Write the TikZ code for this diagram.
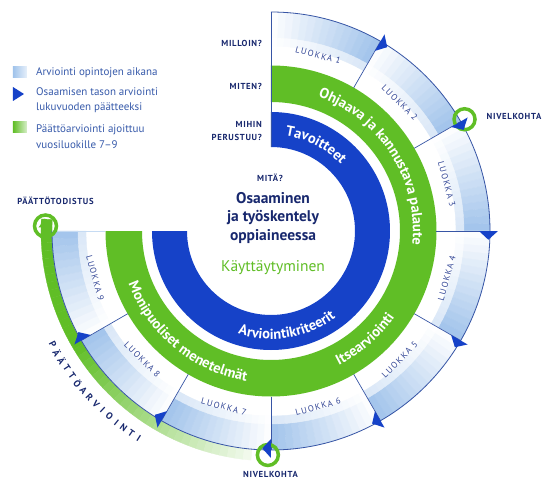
\documentclass[tikz,border=0pt]{standalone}
\usepackage{fontspec}
\setmainfont{PT Sans}
\newfontfamily\capsfont[LetterSpace=8]{PT Sans}
\newfontfamily\luofont[LetterSpace=15]{PT Sans}
\usetikzlibrary{decorations.text}
\definecolor{navy}{RGB}{24,40,110}
\definecolor{ringblue}{RGB}{22,66,200}
\definecolor{grn}{RGB}{96,190,38}
\definecolor{lb}{RGB}{160,195,235}
\definecolor{lineblue}{RGB}{55,85,165}
\definecolor{legblue}{RGB}{55,90,170}
\definecolor{luoblue}{RGB}{50,70,150}
\newcommand\annsec[5]{\path[#1] (#2:#4) arc[start angle=#2,end angle=#3,radius=#4] -- (#3:#5) arc[start angle=#3,end angle=#2,radius=#5] -- cycle;}
\newcommand\ringfont{\fontsize{14.5}{14.5}\selectfont\bfseries\color{white}}
\begin{document}
\begin{tikzpicture}[x=1pt,y=1pt,
  capsl/.style={font=\capsfont\fontsize{8.7}{10}\selectfont\bfseries, text=navy, inner sep=0pt},
  luo/.style={font=\luofont\fontsize{8.7}{10}\selectfont, text=luoblue, inner sep=0pt},
  leg/.style={font=\fontsize{11}{15.5}\selectfont, text=legblue, align=left, anchor=west, inner sep=0pt},
  pa/.style={font=\fontsize{9.5}{10}\selectfont\bfseries, text=navy, inner sep=0pt},
  divider/.style={lineblue, line width=0.7pt},
  nivel/.style={grn, line width=3.5pt},
  marker/.style={fill=ringblue}]
\useasboundingbox (-271,-270) rectangle (279,231);
\fill[white] (-271,-270) rectangle (279,231);

% green final-assessment band
\foreach \j in {0,...,43} {
  \pgfmathsetmacro\a{-183+2*\j}
  \pgfmathsetmacro\b{\a+2}
  \pgfmathtruncatemacro\p{\a<-150 ? 100 : max(0,100-(\a+150)*1.7)}
  \annsec{fill=grn!\p!white, draw=grn!\p!white, line width=0.3pt}{\a}{\b}{219pt}{230pt}
}

% grade segments shading
\foreach \k in {1,...,9} {
  \foreach \j in {0,...,14} {
    \pgfmathsetmacro\a{90-30*(\k-1)-2*\j}
    \pgfmathsetmacro\b{\a-2}
    \pgfmathtruncatemacro\p{(\j+0.5)*100/15}
    \pgfmathtruncatemacro\q{(\j+0.5)*40/15}
    \annsec{fill=lb!\p!white, draw=lb!\p!white, line width=0.3pt}{\a}{\b}{193pt}{219pt}
    \annsec{fill=lb!\q!white, draw=lb!\q!white, line width=0.3pt}{\a}{\b}{185pt}{193pt}
  }
}

% rings
\annsec{fill=grn}{90}{-180}{129pt}{165.5pt}
\annsec{fill=ringblue}{90}{-180}{84pt}{119pt}

% lines
\draw[lineblue, line width=0.8pt] (90:219pt) arc[start angle=90,end angle=-180,radius=219pt];
\foreach \t in {60,30,...,-150} \draw[divider] (\t:165.5pt) -- (\t:219pt);
\draw[divider] (90:84pt) -- (90:219pt);
\draw[lb!60!white, line width=0.7pt] (180:165.5pt) -- (180:219pt);

% nivelkohta circles
\draw[nivel] (30:223.5pt) circle[radius=10.5pt];
\draw[nivel] (-90.8:224pt) circle[radius=10.5pt];
\draw[nivel] (-225.5,5) circle[radius=11pt];
\fill[grn] (-226,12.5) -- (-232.5,3.5) -- (-219.5,3.5) -- cycle;

% markers
\foreach \t in {60,30,...,-150} {
  \pgfmathsetmacro\ap{\t-2.3}
  \fill[marker] (\t:208pt) -- (\t:227pt) -- (\ap:217.5pt) -- cycle;
}

% ring texts
\path[decorate, decoration={text along path, text align=center,
  text={|\ringfont|Ohjaava ja kannustava palaute}}]
  (90:142pt) arc[start angle=90,end angle=-25,radius=142pt];
\path[decorate, decoration={text along path, text align=center,
  text={|\ringfont|Itsearviointi}}]
  (-80:150.5pt) arc[start angle=-80,end angle=-18,radius=150.5pt];
\path[decorate, decoration={text along path, text align=center,
  text={|\ringfont|Monipuoliset menetelmät}}]
  (-175:152pt) arc[start angle=-175,end angle=-84,radius=152pt];
\path[decorate, decoration={text along path, text align=center,
  text={|\ringfont|Tavoitteet}}]
  (90:96.5pt) arc[start angle=90,end angle=35,radius=96.5pt];
\path[decorate, decoration={text along path, text align=center,
  text={|\ringfont|Arviointikriteerit}}]
  (-130:108pt) arc[start angle=-130,end angle=-31,radius=108pt];

% grade labels
\foreach \k in {1,...,9} {
  \pgfmathsetmacro\m{75-30*(\k-1)}
  \pgfmathsetmacro\rot{\m>0 ? \m-90 : \m+90}
  \node[luo, rotate=\rot, name=l\k] at (\m:182pt) {LUOKKA \k};
}

% centre texts
\node[capsl, name=mita] at (-1,53) {MITÄ?};
\node[name=core, align=center, text=navy, inner sep=0pt,
  font=\fontsize{15.5}{18.5}\selectfont\bfseries] at (2,13) {Osaaminen\\ja työskentely\\oppiaineessa};
\node[name=kay, text=grn, inner sep=0pt, font=\fontsize{15.5}{18}\selectfont] at (2,-37) {Käyttäytyminen};

% questions
\node[capsl, anchor=east, name=q1] at (-9,188) {MILLOIN?};
\node[capsl, anchor=east, name=q2] at (-9,145) {MITEN?};
\node[capsl, anchor=east, align=right, name=q3, font=\capsfont\fontsize{8.7}{13}\selectfont\bfseries] at (-9,100) {MIHIN\\PERUSTUU?};

% side labels
\node[capsl, name=nk1] at (243,115) {NIVELKOHTA};
\node[capsl, name=nk2] at (-0.5,-243) {NIVELKOHTA};
\node[capsl, name=pt] at (-215.5,30) {PÄÄTTÖTODISTUS};

\foreach \c [count=\i] in {P,Ä,Ä,T,T,Ö,A,R,V,I,O,I,N,T,I} {
  \pgfmathsetmacro\ang{-152.5+(\i-1)*30/14}
  \pgfmathsetmacro\rr{\ang+90}
  \node[pa, rotate=\rr, name=pa\i] at (\ang:246pt) {\c};
}

% legend
\shade[left color=lb, right color=lb!25!white] (-258,153) rectangle (-244,164);
\node[leg, name=leg1] at (-235,158) {Arviointi opintojen aikana};
\fill[ringblue] (-258,144) -- (-258,130) -- (-247,137) -- cycle;
\node[leg, name=leg2] at (-235,131) {Osaamisen tason arviointi\\lukuvuoden päätteeksi};
\shade[left color=grn, right color=grn!25!white] (-258,98) rectangle (-244,109);
\node[leg, name=leg3] at (-235,94.5) {Päättöarviointi ajoittuu\\vuosiluokille 7–9};
\end{tikzpicture}
\end{document}
